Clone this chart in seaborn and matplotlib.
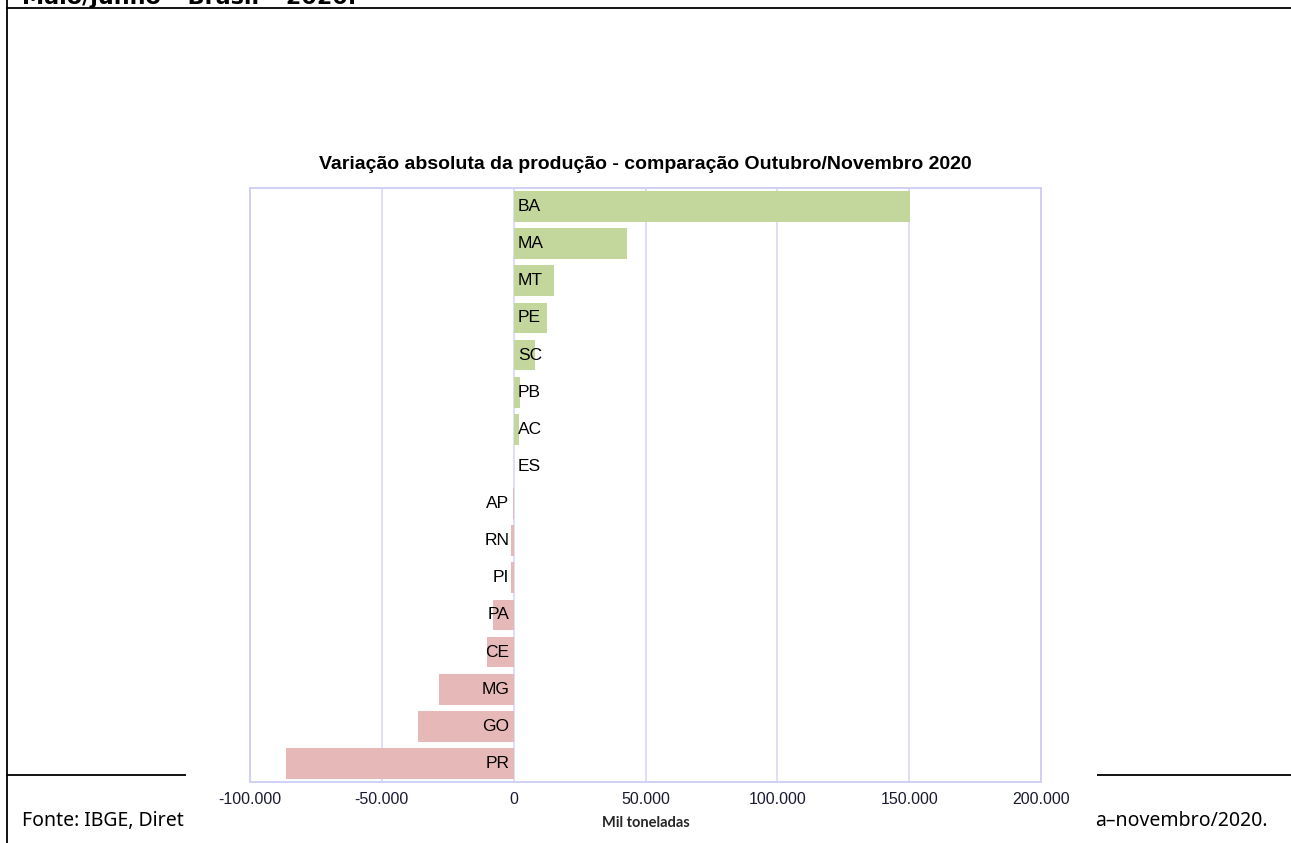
import matplotlib
matplotlib.use("Agg")
import matplotlib.pyplot as plt
from matplotlib.lines import Line2D
from matplotlib.patches import Rectangle
from matplotlib.ticker import FuncFormatter
import pandas as pd
import seaborn as sns

# dados (mil toneladas)
estados = ['BA', 'MA', 'MT', 'PE', 'SC', 'PB', 'AC', 'ES',
           'AP', 'RN', 'PI', 'PA', 'CE', 'MG', 'GO', 'PR']
variacao = [150300, 42900, 15300, 12600, 8100, 2400, 2000, 200,
            -100, -1200, -1100, -7700, -10100, -28200, -36400, -86500]
x_ticks = [-100000, -50000, 0, 50000, 100000, 150000, 200000]

titulo = 'Variação absoluta da produção - comparação Outubro/Novembro 2020'
titulo_pagina = 'Maio/junho – Brasil – 2020.'
fonte_esq = 'Fonte: IBGE, Diret'
fonte_dir = 'a–novembro/2020.'

df = pd.DataFrame({'estado': estados, 'variacao': variacao})
cores = ['#c3d69b' if v >= 0 else '#e6b9b8' for v in variacao]

sns.set_style('white')
plt.rcParams['font.family'] = ['Liberation Sans', 'DejaVu Sans']
plt.rcParams['text.color'] = 'black'

W, H = 1291, 843
fig = plt.figure(figsize=(W / 100, H / 100), dpi=100)

# elementos da página (atrás do quadro do gráfico)
fig.add_artist(Line2D([7 / W, 7 / W], [0, 1], color='black', lw=1.3))
fig.add_artist(Line2D([7 / W, 1], [1 - 8 / H, 1 - 8 / H], color='black', lw=1.3))
fig.add_artist(Line2D([7 / W, 1], [1 - 775 / H, 1 - 775 / H], color='black', lw=1.3))
fig.text(22 / W, 1 - 4 / H, titulo_pagina, fontsize=16, fontweight='bold',
         va='baseline', family=['DejaVu Sans'])
fig.text(22 / W, 1 - 826 / H, fonte_esq, fontsize=14, va='baseline',
         family=['Noto Sans', 'DejaVu Sans'])
fig.text(1268 / W, 1 - 826 / H, fonte_dir, fontsize=14, va='baseline', ha='right',
         family=['Noto Sans', 'DejaVu Sans'])
fig.add_artist(Rectangle((186 / W, 0), (1097 - 186) / W, (843 - 25) / H,
                         transform=fig.transFigure, facecolor='white',
                         edgecolor='none', zorder=2))

ax = fig.add_axes([250 / W, 1 - 782 / H, (1041 - 250) / W, (782 - 188) / H], zorder=3)
sns.barplot(data=df, x='variacao', y='estado', hue='estado', palette=cores,
            legend=False, orient='h', width=0.83, saturation=1, linewidth=0, ax=ax)

ax.set_xlim(-100000, 200000)
ax.set_xticks(x_ticks)
ax.xaxis.set_major_formatter(FuncFormatter(lambda v, p: f'{int(v):,}'.replace(',', '.')))
ax.tick_params(axis='x', length=0, labelsize=11.5, colors='#1a1a33', pad=7)
ax.set_yticks([])
ax.set_ylabel('')
ax.set_xlabel('Mil toneladas', fontsize=10.5, fontweight='bold',
              family=['Lato', 'DejaVu Sans'], labelpad=7)
ax.grid(axis='x', color='#d8d8f8', lw=1.2)
ax.set_axisbelow(True)
for s in ax.spines.values():
    s.set_color('#d0d0f5')
    s.set_linewidth(1.4)

for i, (e, v) in enumerate(zip(estados, variacao)):
    if v >= 0:
        ax.annotate(e, (0, i), xytext=(3, 0), textcoords='offset points',
                    ha='left', va='center', fontsize=12.5)
    else:
        ax.annotate(e, (0, i), xytext=(-3, 0), textcoords='offset points',
                    ha='right', va='center', fontsize=12.5)

ax.set_title(titulo, fontsize=14, fontweight='bold', pad=14)

fig.savefig('out.png', dpi=100)
